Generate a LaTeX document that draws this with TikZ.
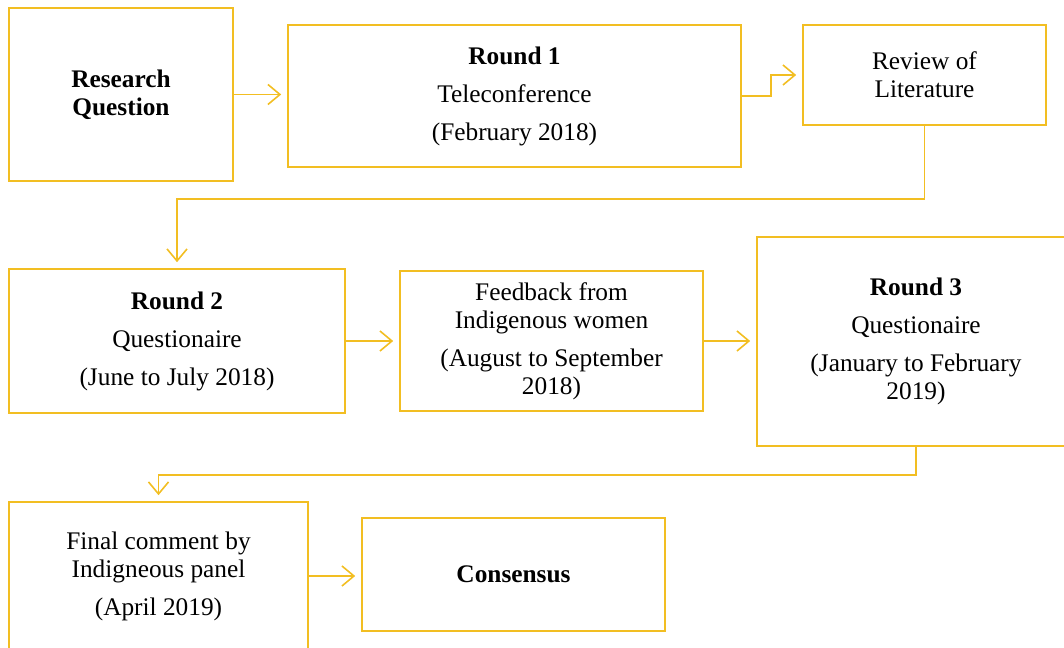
\documentclass[tikz,border=0pt]{standalone}
\usepackage{fontspec}
\setmainfont{Liberation Serif}
\usetikzlibrary{arrows.meta}
\definecolor{gold}{RGB}{242,190,34}
\def\px{0.75pt}
\tikzset{
  stage/.style={draw=gold,line width=1.2pt,inner sep=0pt,align=center,
    font=\fontsize{19}{21}\selectfont},
  flow/.style={draw=gold,line width=1.2pt,-{Straight Barb[length=9pt,width=15pt]},shorten >=4.5pt}
}
\begin{document}
\begin{tikzpicture}[x=0.75pt,y=-0.75pt]
\useasboundingbox (0,0) rectangle (1064,648);
\node[stage,minimum width=224*\px,minimum height=173*\px] (rq) at (121,94.5) {\textbf{Research}\\\textbf{Question}};
\node[stage,minimum width=453*\px,minimum height=142*\px] (r1) at (514.5,96) {\textbf{Round 1}\\[7.5pt]Teleconference\\[7.5pt](February 2018)};
\node[stage,minimum width=243*\px,minimum height=100*\px] (lit) at (924.5,75) {Review of\\Literature};
\node[stage,minimum width=336*\px,minimum height=144*\px] (r2) at (177,341) {\textbf{Round 2}\\[7.5pt]Questionaire\\[7.5pt](June to July 2018)};
\node[stage,minimum width=303*\px,minimum height=140*\px] (fb) at (551.5,341) {Feedback from\\Indigenous women\\[7.5pt](August to September\\2018)};
\node[stage,minimum width=318*\px,minimum height=209*\px] (r3) at (916,341.5) {\textbf{Round 3}\\[7.5pt]Questionaire\\[7.5pt](January to February\\2019)};
\node[stage,minimum width=299*\px,minimum height=148*\px] (fin) at (158.5,576) {Final comment by\\Indigneous panel\\[7.5pt](April 2019)};
\node[stage,minimum width=303*\px,minimum height=113*\px] (cons) at (513.5,574.5) {\textbf{Consensus}};

% connectors
\draw[flow] (rq.east) -- (rq.east -| r1.west);
\draw[flow] (r1.east) -- ++(29,0) |- (lit.west);
\draw[flow] (lit.south) -- ++(0,73) -| (r2.north);
\draw[flow] (r2.east) -- (r2.east -| fb.west);
\draw[flow] (fb.east) -- (fb.east -| r3.west);
\draw[flow] (r3.south) -- ++(0,28) -| (fin.north);
\draw[flow] (fin.east) -- (fin.east -| cons.west);
\end{tikzpicture}
\end{document}
